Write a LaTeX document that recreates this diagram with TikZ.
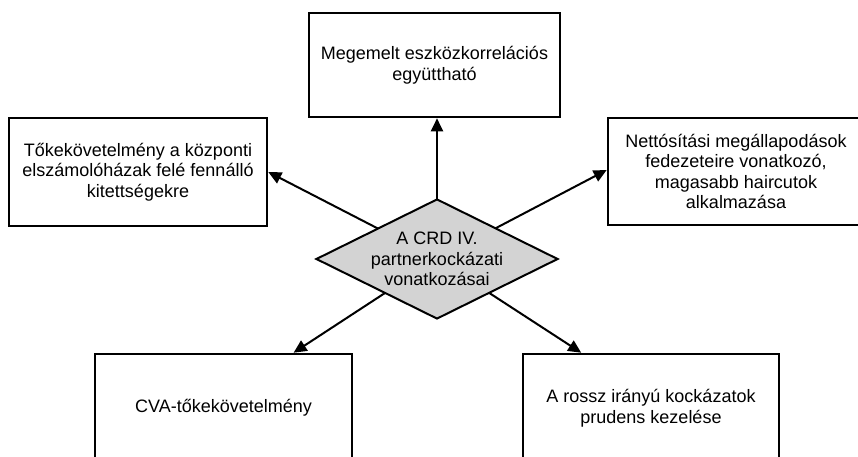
\documentclass[tikz,border=0pt]{standalone}
\usepackage{fontspec}
\setmainfont{Liberation Sans}
\usetikzlibrary{shapes.geometric,arrows.meta,backgrounds,calc}
\definecolor{diagray}{RGB}{211,211,211}
\tikzset{
  box/.style={draw=black, line width=2.6pt, rectangle, inner sep=0pt, align=center,
    font=\fontsize{18}{20.5}\selectfont},
  conn/.style={line width=2pt, -{Triangle[length=13pt,width=12pt]}},
}
\begin{document}
\begin{tikzpicture}[x=1pt,y=-1pt]
\clip (0,0) rectangle (858,457);
\node[box, minimum width=251pt, minimum height=104pt] (top) at (434.5,65) {Megemelt eszközkorrelációs\\együttható};
\node[box, minimum width=258pt, minimum height=108pt] (left) at (138,172) {Tőkekövetelmény a központi\\elszámolóházak felé fennálló\\kitettségekre};
\node[box, minimum width=256pt, minimum height=107pt] (right) at (736,171.5) {Nettósítási megállapodások\\fedezeteire vonatkozó,\\magasabb haircutok\\alkalmazása};
\node[box, minimum width=257pt, minimum height=108pt] (bl) at (223.5,408) {CVA-tőkekövetelmény};
\node[box, minimum width=256pt, minimum height=108pt] (br) at (651,408) {A rossz irányú kockázatok\\prudens kezelése};
\node[diamond, draw=black, line width=2pt, fill=diagray, inner sep=0pt,
      minimum width=242pt, minimum height=120pt] (dia) at (437,259) {};
\node[align=center, font=\fontsize{18}{20.5}\selectfont] (diatext) at (dia.center) {A CRD IV.\\partnerkockázati\\vonatkozásai};
\begin{scope}[on background layer]
\fill[white] (0,0) rectangle (858,457);
\draw[conn] (dia.center) -- (top.south -| dia.center);
\draw[conn] (dia.center) -- (left.east);
\draw[conn] (dia.center) -- ($(right.west)+(0,-1.5)$);
\draw[conn] (dia.center) -- ($(bl.north west)!0.77!(bl.north east)$);
\draw[conn] (dia.center) -- ($(br.north west)!0.23!(br.north east)$);
\end{scope}
\end{tikzpicture}
\end{document}
